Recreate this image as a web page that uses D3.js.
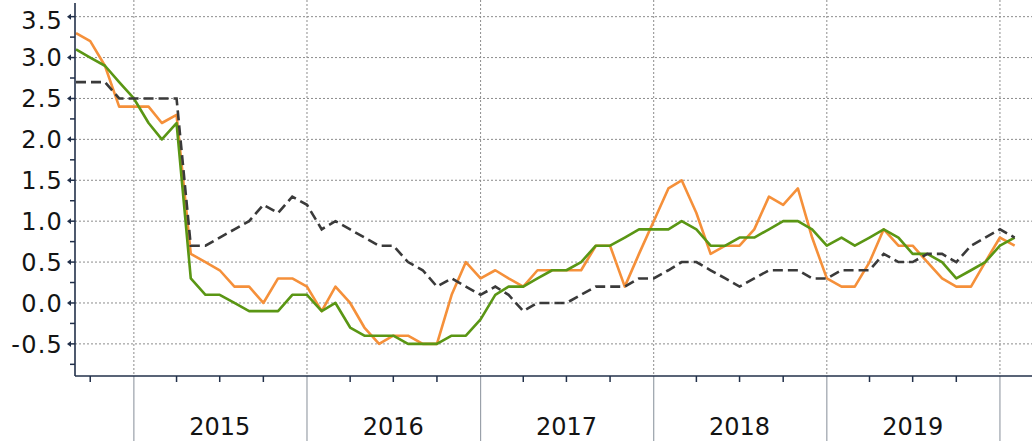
<!DOCTYPE html>
<html>
<head>
<meta charset="utf-8">
<script src="https://cdn.jsdelivr.net/npm/d3@7"></script>
<style>
  body { margin: 0; background: #fff; }
  svg { display: block; font-family: "DejaVu Sans", sans-serif; }
</style>
</head>
<body>
<div id="chart"></div>
<script>
width = 1032;
height = 441;

// monthly readings, first one is Sep 2014
startMonth = new Date(2014, 8, 1);

orange = [3.3, 3.2, 2.9, 2.4, 2.4, 2.4, 2.2, 2.3, 0.6, 0.5, 0.4, 0.2,
          0.2, 0.0, 0.3, 0.3, 0.2, -0.1, 0.2, 0.0, -0.3, -0.5, -0.4, -0.4,
          -0.5, -0.5, 0.1, 0.5, 0.3, 0.4, 0.3, 0.2, 0.4, 0.4, 0.4, 0.4,
          0.7, 0.7, 0.2, 0.6, 1.0, 1.4, 1.5, 1.1, 0.6, 0.7, 0.7, 0.9,
          1.3, 1.2, 1.4, 0.8, 0.3, 0.2, 0.2, 0.5, 0.9, 0.7, 0.7, 0.5,
          0.3, 0.2, 0.2, 0.5, 0.8, 0.7];

green = [3.1, 3.0, 2.9, 2.7, 2.5, 2.2, 2.0, 2.2, 0.3, 0.1, 0.1, 0.0,
         -0.1, -0.1, -0.1, 0.1, 0.1, -0.1, 0.0, -0.3, -0.4, -0.4, -0.4, -0.5,
         -0.5, -0.5, -0.4, -0.4, -0.2, 0.1, 0.2, 0.2, 0.3, 0.4, 0.4, 0.5,
         0.7, 0.7, 0.8, 0.9, 0.9, 0.9, 1.0, 0.9, 0.7, 0.7, 0.8, 0.8,
         0.9, 1.0, 1.0, 0.9, 0.7, 0.8, 0.7, 0.8, 0.9, 0.8, 0.6, 0.6,
         0.5, 0.3, 0.4, 0.5, 0.7, 0.8];

dashed = [2.7, 2.7, 2.7, 2.5, 2.5, 2.5, 2.5, 2.5, 0.7, 0.7, 0.8, 0.9,
          1.0, 1.2, 1.1, 1.3, 1.2, 0.9, 1.0, 0.9, 0.8, 0.7, 0.7, 0.5,
          0.4, 0.2, 0.3, 0.2, 0.1, 0.2, 0.1, -0.1, 0.0, 0.0, 0.0, 0.1,
          0.2, 0.2, 0.2, 0.3, 0.3, 0.4, 0.5, 0.5, 0.4, 0.3, 0.2, 0.3,
          0.4, 0.4, 0.4, 0.3, 0.3, 0.4, 0.4, 0.4, 0.6, 0.5, 0.5, 0.6,
          0.6, 0.5, 0.7, 0.8, 0.9, 0.8];

yTicks = [-0.5, 0.0, 0.5, 1.0, 1.5, 2.0, 2.5, 3.0, 3.5];
yMinor = [-0.75, -0.25, 0.25, 0.75, 1.25, 1.75, 2.25, 2.75, 3.25];
years = [2015, 2016, 2017, 2018, 2019];

navy = "#22304a";

months = d3.timeMonth.range(startMonth, d3.timeMonth.offset(startMonth, orange.length));

left = 75;
bottom = 376;

x = d3.scaleTime()
    .domain([startMonth, new Date(2020, 2, 1)])
    .range([76, 1028.4]);

y = d3.scaleLinear()
    .domain([-0.9, 3.7])
    .range([376.6, 0.3]);

svg = d3.select("#chart")
  .append("svg")
    .attr("width", width)
    .attr("height", height);

// horizontal dotted grid
svg.append("g")
    .selectAll("line")
    .data(yTicks)
    .join("line")
      .attr("x1", left).attr("x2", width)
      .attr("y1", d => y(d)).attr("y2", d => y(d))
      .attr("stroke", "#8c8c8c")
      .attr("stroke-dasharray", "2,2");

// year boundaries: dotted in the plot, solid below the axis
yearStarts = d3.timeYear.range(new Date(2015, 0, 1), new Date(2020, 1, 1));

svg.append("g")
    .selectAll("line")
    .data(yearStarts)
    .join("line")
      .attr("x1", d => x(d)).attr("x2", d => x(d))
      .attr("y1", 0).attr("y2", bottom)
      .attr("stroke", "#8c8c8c")
      .attr("stroke-dasharray", "2,2");

svg.append("g")
    .selectAll("line")
    .data(yearStarts)
    .join("line")
      .attr("x1", d => x(d)).attr("x2", d => x(d))
      .attr("y1", bottom).attr("y2", height)
      .attr("stroke", "#9aa1aa")
      .attr("stroke-width", 1.2);

// quarter ticks under the axis
quarters = d3.timeMonth.every(3).range(new Date(2014, 9, 1), new Date(2020, 2, 2))
    .filter(d => d.getMonth() != 0);

svg.append("g")
    .selectAll("line")
    .data(quarters)
    .join("line")
      .attr("x1", d => x(d)).attr("x2", d => x(d))
      .attr("y1", bottom).attr("y2", bottom + 6)
      .attr("stroke", navy)
      .attr("stroke-width", 1.5);

// lines
line = data => d3.line()
    .x((d, i) => x(months[i]))
    .y(d => y(d))(data);

svg.append("path")
    .attr("d", line(orange))
    .attr("fill", "none")
    .attr("stroke", "#f5903a")
    .attr("stroke-width", 2.6)
    .attr("stroke-linejoin", "round");

svg.append("path")
    .attr("d", line(green))
    .attr("fill", "none")
    .attr("stroke", "#5a9614")
    .attr("stroke-width", 2.6)
    .attr("stroke-linejoin", "round");

svg.append("path")
    .attr("d", line(dashed))
    .attr("fill", "none")
    .attr("stroke", "#3a3a3a")
    .attr("stroke-width", 2.6)
    .attr("stroke-dasharray", "10,5");

// axes
svg.append("line")
    .attr("x1", left).attr("x2", left)
    .attr("y1", 3).attr("y2", bottom)
    .attr("stroke", navy)
    .attr("stroke-width", 1.6);

svg.append("line")
    .attr("x1", left).attr("x2", width)
    .attr("y1", bottom).attr("y2", bottom)
    .attr("stroke", navy)
    .attr("stroke-width", 1.6);

svg.append("g")
    .selectAll("line")
    .data(yMinor)
    .join("line")
      .attr("x1", left - 5).attr("x2", left)
      .attr("y1", d => y(d)).attr("y2", d => y(d))
      .attr("stroke", navy)
      .attr("stroke-width", 1.5);

const tick = svg.append("g")
    .selectAll("g")
    .data(yTicks)
    .join("g")
      .attr("transform", d => `translate(${left},${y(d)})`);

tick.append("line")
    .attr("x1", -6).attr("x2", 0)
    .attr("stroke", navy)
    .attr("stroke-width", 1.5);

tick.append("path")
    .attr("d", "M-8,0L-4,-3L-4,3Z")
    .attr("fill", navy);

tick.append("text")
    .attr("x", -12)
    .attr("y", d => d == 3.5 ? 4 : 0)
    .attr("dy", "0.36em")
    .attr("text-anchor", "end")
    .attr("font-size", 24)
    .attr("letter-spacing", 1.2)
    .attr("fill", "#141414")
    .text(d => d.toFixed(1));

// year labels
svg.append("g")
    .selectAll("text")
    .data(years)
    .join("text")
      .attr("x", d => x(new Date(d, 6, 1)))
      .attr("y", 435)
      .attr("text-anchor", "middle")
      .attr("font-size", 24)
      .attr("fill", "#141414")
      .text(d => d);
</script>
</body>
</html>
